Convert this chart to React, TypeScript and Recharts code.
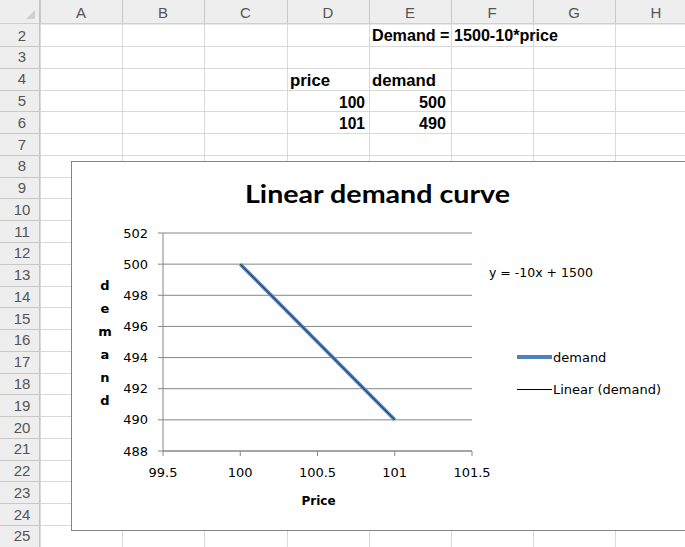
import React from 'react';
import { LineChart, Line, XAxis, YAxis, CartesianGrid, Legend, Label } from 'recharts';

// ---- data ----
const prices = [100, 101];
const demands = [500, 490];
const linearDemand = [500, 490];
const xTicks = [99.5, 100, 100.5, 101, 101.5];
const yTicks = [488, 490, 492, 494, 496, 498, 500, 502];
const columnLetters = ['A', 'B', 'C', 'D', 'E', 'F', 'G', 'H'];
const rowNumbers = [2, 3, 4, 5, 6, 7, 8, 9, 10, 11, 12, 13, 14, 15, 16, 17, 18, 19, 20, 21, 22, 23, 24, 25];
const chartTitle = 'Linear demand curve';
const xAxisTitle = 'Price';
const yAxisTitle = 'demand';
const trendEquation = 'y = -10x + 1500';
const formulaNote = 'Demand = 1500-10*price';
const tableHeaders = ['price', 'demand'];
const legendOrder = ['demand', 'linear'];

const data = prices.map((p, i) => ({ price: p, demand: demands[i], linear: linearDemand[i] }));

// ---- sheet geometry ----
const colEdges = [40, 122, 204, 287, 369, 451, 533, 615, 697];
const headerH = 24.3;
const rowH = 21.77;
const rowTop = (r: number) => headerH + (r - 2) * rowH;

const HEAD_FONT = "'Liberation Sans Narrow', 'Liberation Sans', Arial, sans-serif";
const CELL_FONT = "'Liberation Sans Narrow', 'Liberation Sans', Arial, sans-serif";
const CHART_FONT = "'DejaVu Sans', Verdana, sans-serif";

function Sheet() {
  const W = 685;
  const H = 547;
  return (
    <svg width={W} height={H} style={{ position: 'absolute', left: 0, top: 0 }}>
      <rect x={0} y={0} width={W} height={H} fill="#ffffff" />
      {colEdges.map((x) => (
        <line key={'v' + x} x1={x + 0.5} x2={x + 0.5} y1={headerH} y2={H} stroke="#d9d9d9" />
      ))}
      {rowNumbers.map((r) => (
        <line key={'h' + r} x1={40} x2={W} y1={Math.round(rowTop(r) + rowH) + 0.5} y2={Math.round(rowTop(r) + rowH) + 0.5} stroke="#d9d9d9" />
      ))}
      <rect x={0} y={0} width={W} height={headerH} fill="#eeeeee" />
      <line x1={0} x2={W} y1={headerH - 0.5} y2={headerH - 0.5} stroke="#c3c3c3" />
      <rect x={0} y={headerH} width={40} height={H - headerH} fill="#eeeeee" />
      <line x1={39.5} x2={39.5} y1={0} y2={H} stroke="#c3c3c3" />
      {colEdges.map((x) => (
        <line key={'hv' + x} x1={x + 0.5} x2={x + 0.5} y1={0} y2={headerH} stroke="#c8c8c8" />
      ))}
      {rowNumbers.map((r) => (
        <line key={'rh' + r} x1={0} x2={40} y1={Math.round(rowTop(r) + rowH) + 0.5} y2={Math.round(rowTop(r) + rowH) + 0.5} stroke="#c8c8c8" />
      ))}
      <polygon points="35,10 35,19 26,19" fill="#d0d0d0" />
      {columnLetters.map((c, i) => (
        <text key={c} x={(colEdges[i] + colEdges[i + 1]) / 2} y={18} textAnchor="middle" fontFamily={HEAD_FONT} fontSize={15} fill="#555555">
          {c}
        </text>
      ))}
      {rowNumbers.map((r) => (
        <text key={'rn' + r} x={22} y={rowTop(r) + rowH / 2 + 5.5} textAnchor="middle" fontFamily={HEAD_FONT} fontSize={15} fill="#555555">
          {r}
        </text>
      ))}
      <text x={372} y={41} fontFamily={CELL_FONT} fontWeight="bold" fontSize={16} textLength={186} lengthAdjust="spacingAndGlyphs">
        {formulaNote}
      </text>
      <text x={290} y={85.5} fontFamily={CELL_FONT} fontWeight="bold" fontSize={16} textLength={40} lengthAdjust="spacingAndGlyphs">
        {tableHeaders[0]}
      </text>
      <text x={372} y={85.5} fontFamily={CELL_FONT} fontWeight="bold" fontSize={16} textLength={64} lengthAdjust="spacingAndGlyphs">
        {tableHeaders[1]}
      </text>
      {prices.map((p, i) => (
        <text key={'p' + i} x={365} y={107.5 + i * rowH} textAnchor="end" fontFamily={CELL_FONT} fontWeight="bold" fontSize={16} textLength={26} lengthAdjust="spacingAndGlyphs">
          {p}
        </text>
      ))}
      {demands.map((d, i) => (
        <text key={'d' + i} x={446} y={107.5 + i * rowH} textAnchor="end" fontFamily={CELL_FONT} fontWeight="bold" fontSize={16} textLength={27} lengthAdjust="spacingAndGlyphs">
          {d}
        </text>
      ))}
    </svg>
  );
}

const legendStyles: Record<string, { color: string; width: number }> = {
  demand: { color: '#4f81bd', width: 4 },
  linear: { color: '#000000', width: 1 },
};

function LegendContent(props: any) {
  const payload = [...(props.payload || [])].sort(
    (a: any, b: any) => legendOrder.indexOf(a.dataKey) - legendOrder.indexOf(b.dataKey)
  );
  return (
    <div style={{ fontFamily: CHART_FONT, fontSize: 13 }}>
      {payload.map((entry: any) => {
        const st = legendStyles[entry.dataKey] || { color: entry.color, width: 2 };
        return (
          <div key={entry.value} style={{ height: 32, display: 'flex', alignItems: 'center' }}>
            <svg width={36} height={10} style={{ display: 'block' }}>
              <line x1={0} x2={35} y1={st.width % 2 === 1 ? 5.5 : 5} y2={st.width % 2 === 1 ? 5.5 : 5} stroke={st.color} strokeWidth={st.width} />
            </svg>
            <span style={{ color: '#000', whiteSpace: 'nowrap' }}>{entry.value}</span>
          </div>
        );
      })}
    </div>
  );
}

const yLetterCenters = [123, 146, 169, 192, 215, 238];

function YTitle() {
  return (
    <g>
      {yAxisTitle.split('').map((ch, i) => (
        <text key={i} x={33} y={yLetterCenters[i]} textAnchor="middle" dominantBaseline="central" fontFamily={CHART_FONT} fontWeight="bold" fontSize={13} fill="#000">
          {ch}
        </text>
      ))}
    </g>
  );
}

function XTitle(props: any) {
  const vb = props.viewBox || { x: 0, y: 0, width: 0 };
  return (
    <text x={vb.x + vb.width / 2 + 1} y={vb.y + 54} textAnchor="middle" fontFamily={CHART_FONT} fontWeight="bold" fontSize={12} fill="#000">
      {xAxisTitle}
    </text>
  );
}

export default function App() {
  const chartLeft = 72;
  const chartTop = 162;
  return (
    <div style={{ position: 'absolute', left: 0, top: 0, width: 685, height: 547, overflow: 'hidden', background: '#fff' }}>
      <Sheet />
      <div
        style={{
          position: 'absolute',
          left: 71,
          top: 161,
          width: 640,
          height: 370,
          boxSizing: 'border-box',
          border: '1px solid #858585',
          background: '#fff',
        }}
      />
      <div style={{ position: 'absolute', left: chartLeft, top: chartTop }}>
        <LineChart width={620} height={368} data={data} margin={{ top: 71, right: 220, bottom: 39, left: 31 }}>
          <CartesianGrid vertical={false} stroke="#868686" />
          <XAxis
            dataKey="price"
            type="number"
            domain={[99.5, 101.5]}
            ticks={xTicks}
            interval={0}
            height={40}
            tickSize={5}
            tickMargin={12}
            axisLine={{ stroke: '#868686' }}
            tickLine={{ stroke: '#868686' }}
            tick={{ fill: '#000', fontSize: 13, fontFamily: CHART_FONT }}
            allowDataOverflow
          >
            <Label content={<XTitle />} />
          </XAxis>
          <YAxis
            type="number"
            domain={[488, 502]}
            ticks={yTicks}
            interval={0}
            width={60}
            tickSize={5}
            tickMargin={10}
            axisLine={{ stroke: '#868686' }}
            tickLine={{ stroke: '#868686' }}
            tick={{ fill: '#000', fontSize: 13, fontFamily: CHART_FONT }}
            allowDataOverflow
          >
            <Label content={<YTitle />} />
          </YAxis>
          <Legend
            layout="horizontal"
            verticalAlign="middle"
            align="center"
            content={<LegendContent />}
            wrapperStyle={{ position: 'absolute', left: 445, top: 179, width: 200 }}
          />
          <Line
            type="linear"
            dataKey="demand"
            name="demand"
            stroke="#4a7ebb"
            strokeWidth={3.5}
            dot={false}
            isAnimationActive={false}
          />
          <Line
            type="linear"
            dataKey="linear"
            name="Linear (demand)"
            stroke="#1f3a5f"
            strokeWidth={1}
            dot={false}
            isAnimationActive={false}
          />
        </LineChart>
      </div>
      <svg width={685} height={547} style={{ position: 'absolute', left: 0, top: 0, pointerEvents: 'none' }}>
        <text x={377.5} y={203} textAnchor="middle" fontFamily="Lato, 'Open Sans', sans-serif" fontWeight="bold" fontSize={24} textLength={265} lengthAdjust="spacingAndGlyphs" fill="#000">
          {chartTitle}
        </text>
        <text x={489} y={276.5} fontFamily={CHART_FONT} fontSize={12.5} fill="#000">
          {trendEquation}
        </text>
      </svg>
    </div>
  );
}
